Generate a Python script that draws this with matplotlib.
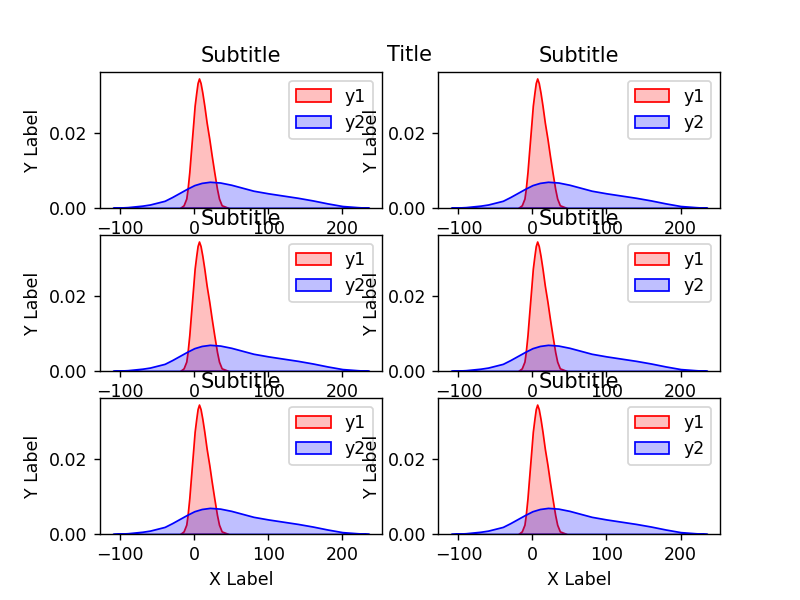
import matplotlib
matplotlib.use("Agg")
import matplotlib.pyplot as plt
import numpy as np

# ── data (density curves, same in every panel) ────────────────────────────────
x1 = [-19, -14.4, -10.8, -9, -6.7, -4.9, -3.1, -1.3, 0.5, 2.7, 4.5, 6.4, 8.5,
      10.9, 13.6, 16.7, 20.3, 23.5, 27, 30.7, 33.4, 37, 46]
y1 = [0, 0.0007, 0.0025, 0.0051, 0.0096, 0.0141, 0.0185, 0.0229, 0.0274,
      0.0309, 0.0335, 0.0347, 0.0335, 0.0309, 0.0274, 0.0229, 0.0185, 0.0141,
      0.0096, 0.0051, 0.0025, 0.0007, 0]

x2 = [-110, -100, -90, -80, -70, -60, -50, -40, -30, -20, -10, 0, 10, 21,
      35, 50, 65, 80, 100, 120, 140, 160, 180, 200, 220, 236]
y2 = [0, 0.0001, 0.0002, 0.0004, 0.0006, 0.0009, 0.0014, 0.0019, 0.0029,
      0.0040, 0.0051, 0.0061, 0.0067, 0.0070, 0.0068, 0.0062, 0.0054, 0.0046,
      0.0039, 0.0033, 0.0027, 0.0020, 0.0012, 0.0005, 0.0002, 0]

SERIES = [("y1", x1, y1, "red"), ("y2", x2, y2, "blue")]

fig, axes = plt.subplots(3, 2, figsize=(6.4, 4.8), dpi=125)
fig.suptitle("Title", x=0.5125, y=0.925)

for r in range(3):
    for c in range(2):
        ax = axes[r, c]
        for label, xs, ys, col in SERIES:
            rgb = matplotlib.colors.to_rgb(col)
            coll = ax.fill_between(xs, ys, facecolor=(*rgb, 0.25), edgecolor=col,
                                   linewidth=1.0, label=label)
            coll.sticky_edges.y.append(0)
        ax.set_title("Subtitle")
        ax.set_ylabel("Y Label")
        if r == 2:
            ax.set_xlabel("X Label")
        ax.legend(loc="upper right")

fig.savefig("out.png", dpi=125)
